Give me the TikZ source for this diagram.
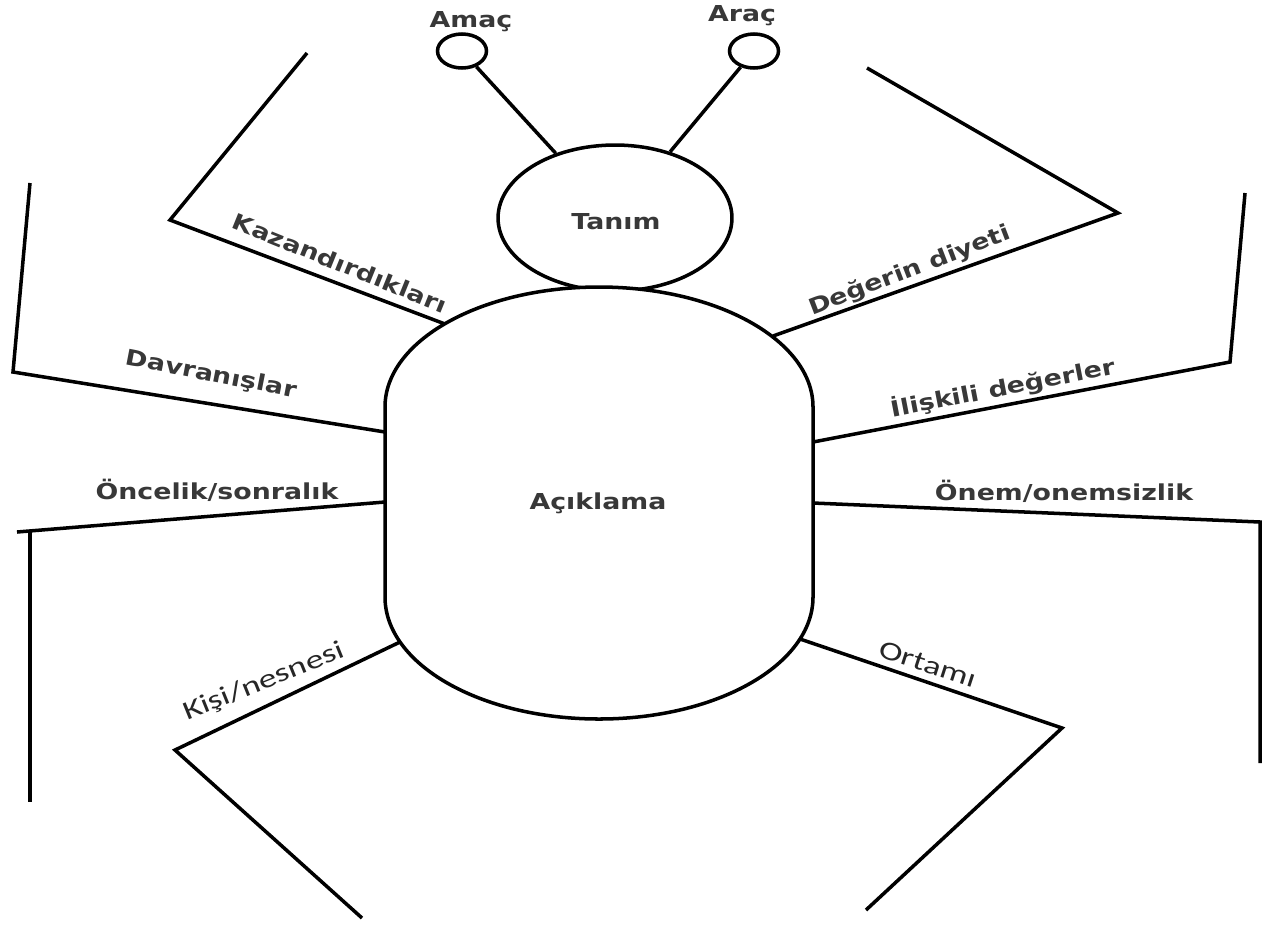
\documentclass[tikz,border=0pt]{standalone}
\usepackage{fontspec}
\setmainfont{DejaVu Sans}
\newfontfamily\lblfont{DejaVu Sans Bold}[FakeStretch=1.22]
\newfontfamily\carlfont{Carlito}[FakeStretch=1.35]
\usetikzlibrary{shapes.geometric}
\tikzset{
  ln/.style={line width=2pt, line join=miter, black},
  lbl/.style={inner sep=0pt, font=\lblfont\fontsize{12.5}{14}\selectfont, text=black!78},
  lblc/.style={inner sep=0pt, font=\carlfont\fontsize{15}{17}\selectfont, text=black!85},
  bubble/.style={ellipse, draw, line width=2pt, inner sep=0pt, fill=white}
}
\begin{document}
\begin{tikzpicture}[x=0.02cm, y=-0.02cm]
\useasboundingbox (0,0) rectangle (1266,924);
% head and antennae
\node[bubble, minimum width=4.68cm, minimum height=2.92cm] (tanim) at (615,218) {};
\node[bubble, minimum width=0.98cm, minimum height=0.68cm] (amac) at (462,51) {};
\node[bubble, minimum width=0.98cm, minimum height=0.68cm] (arac) at (754,51) {};
\draw[ln] (amac) -- (tanim);
\draw[ln] (arac) -- (tanim);
% body
\draw[ln, fill=white] (385,407) -- (385,597)
  arc[start angle=180, end angle=0, x radius=214, y radius=122]
  -- (813,407)
  arc[start angle=0, end angle=-180, x radius=214, y radius=120] -- cycle;
% attachment points on the body
\coordinate (bK) at (445,324);
\coordinate (bD) at (385,432);
\coordinate (bO) at (385,502);
\coordinate (bKi) at (400,642);
\coordinate (bDe) at (773,336);
\coordinate (bI) at (813,442);
\coordinate (bOn) at (813,503);
\coordinate (bOr) at (800,639);
% knees and feet
\coordinate (kK) at (170,220);  \coordinate (fK) at (307,53);
\coordinate (kD) at (13,372);   \coordinate (fD) at (30,183);
\coordinate (kO) at (17,532);   \coordinate (tO) at (30,531); \coordinate (fO) at (30,802);
\coordinate (kKi) at (175,750); \coordinate (fKi) at (362,918);
\coordinate (kDe) at (1118,213); \coordinate (fDe) at (867,68);
\coordinate (kI) at (1230,362); \coordinate (fI) at (1245,193);
\coordinate (kOn) at (1260,522); \coordinate (fOn) at (1260,763);
\coordinate (kOr) at (1062,728); \coordinate (fOr) at (866,910);
% legs
\draw[ln] (bK) -- (kK) -- (fK);
\draw[ln] (bD) -- (kD) -- (fD);
\draw[ln] (bO) -- (kO);
\draw[ln] (tO) -- (fO);
\draw[ln] (bKi) -- (kKi) -- (fKi);
\draw[ln] (bDe) -- (kDe) -- (fDe);
\draw[ln] (bI) -- (kI) -- (fI);
\draw[ln] (bOn) -- (kOn) -- (fOn);
\draw[ln] (bOr) -- (kOr) -- (fOr);
% labels
\node[lbl] (tAmac) at (471,22) {Amaç};
\node[lbl] (tArac) at (742,16) {Araç};
\node[lbl] (tTanim) at (616,222) {Tanım};
\node[lbl] (tAcik) at (598,503) {Açıklama};
\node[lbl, rotate=-22] (tKaz) at (340,263) {Kazandırdıkları};
\node[lbl, rotate=-11] (tDav) at (211,375) {Davranışlar};
\node[lbl] (tOnc) at (217,490) {Öncelik/sonralık};
\node[lblc, rotate=22] (tKisi) at (264,682) {Kişi/nesnesi};
\node[lbl, rotate=21] (tDeg) at (910,271) {Değerin diyeti};
\node[lbl, rotate=11] (tIli) at (1003,388) {İlişkili değerler};
\node[lbl] (tOnem) at (1064,491) {Önem/onemsizlik};
\node[lblc, rotate=-18] (tOrt) at (928,664) {Ortamı};
\end{tikzpicture}
\end{document}
